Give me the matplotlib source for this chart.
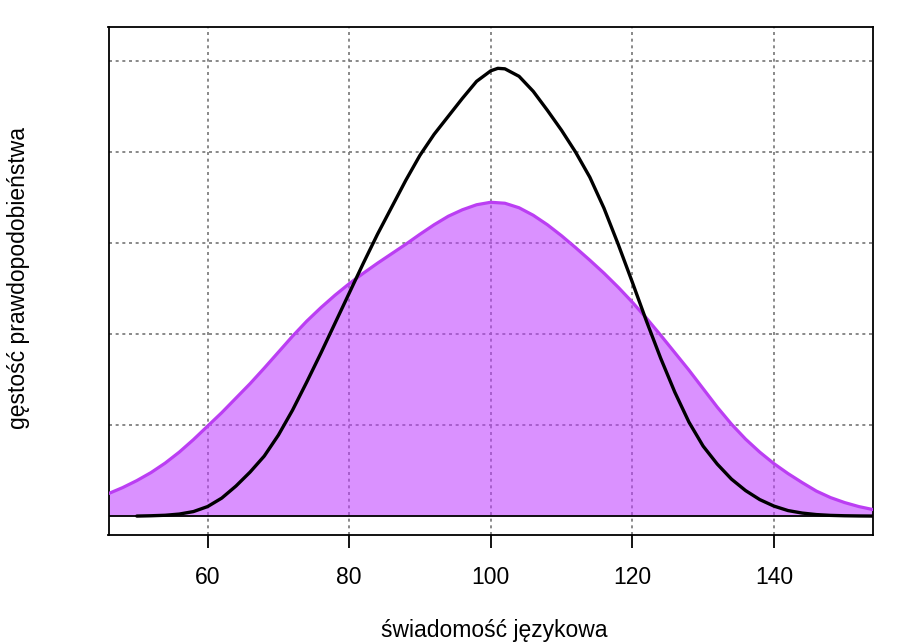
import numpy as np
import matplotlib
matplotlib.use("Agg")
import matplotlib.pyplot as plt

plt.rcParams["font.family"] = ["Liberation Sans", "DejaVu Sans"]

# krzywa teoretyczna (wypełniona, fioletowa)
norm_x = list(range(46, 155, 2))
norm_y = [0.001235, 0.001565, 0.001949, 0.002389, 0.002910, 0.003514, 0.004201,
          0.004942, 0.005683, 0.006479, 0.007275, 0.008127, 0.009005, 0.009884,
          0.010707, 0.011449, 0.012135, 0.012766, 0.013343, 0.013892, 0.014414,
          0.014935, 0.015484, 0.016006, 0.016473, 0.016830, 0.017104, 0.017241,
          0.017187, 0.016939, 0.016528, 0.016006, 0.015402, 0.014743, 0.014057,
          0.013343, 0.012574, 0.011751, 0.010872, 0.009939, 0.008978, 0.008017,
          0.007001, 0.005985, 0.005052, 0.004228, 0.003514, 0.002883, 0.002334,
          0.001839, 0.001373, 0.001016, 0.000741, 0.000522, 0.000357]

# gęstość empiryczna (czarna linia)
dens_x = list(range(50, 101, 2)) + [101] + list(range(102, 155, 2))
dens_y = [0.0, 0.000017, 0.000044, 0.000110, 0.000247, 0.000522, 0.000988,
          0.001647, 0.002416, 0.003295, 0.004448, 0.005820, 0.007358, 0.008950,
          0.010597, 0.012245, 0.013892, 0.015484, 0.016967, 0.018449, 0.019822,
          0.020975, 0.021964, 0.022952, 0.023885, 0.024462, 0.024599, 0.024572,
          0.024160, 0.023336, 0.022293, 0.021195, 0.019987, 0.018614, 0.016912,
          0.014935, 0.012849, 0.010707, 0.008676, 0.006809, 0.005161, 0.003844,
          0.002855, 0.002032, 0.001400, 0.000906, 0.000549, 0.000302, 0.000165,
          0.000082, 0.000038, 0.000017, 0.000006, 0.0]

x_ticks = [60, 80, 100, 120, 140]
y_grid = [0.005, 0.010, 0.015, 0.020, 0.025]

fig = plt.figure(figsize=(9.01, 6.44), dpi=100)
ax = fig.add_axes([108.5 / 901, 1 - 535 / 644, (873 - 108.5) / 901, (535 - 27) / 644])

# siatka kropkowana jak lty=3 w R
grid_style = dict(color="#767676", linewidth=1.2, linestyle=(0, (1.8, 2.2)), zorder=1)
for gx in x_ticks:
    ax.axvline(gx, **grid_style)
for gy in y_grid:
    ax.axhline(gy, **grid_style)

ax.fill_between(norm_x, 0, norm_y, color="#BF3EFF", alpha=0.57, linewidth=0, zorder=2)
ax.plot(norm_x, norm_y, color="#BB3EF3", linewidth=2.3, zorder=3,
        solid_joinstyle="round")
ax.axhline(0, color="black", linewidth=1.3, zorder=4)
ax.plot(dens_x, dens_y, color="black", linewidth=2.4, zorder=5,
        solid_capstyle="round", solid_joinstyle="round")

ax.set_xlim(46, 154)
ax.set_ylim(-0.00104, 0.02687)
ax.set_xticks(x_ticks)
ax.set_yticks([])
ax.tick_params(axis="x", direction="out", length=9.5, width=1.3, pad=13,
               labelsize=16.5, color="black")
for s in ax.spines.values():
    s.set_linewidth(1.3)

fig.text(494 / 901, 1 - 630 / 644, "świadomość językowa", ha="center", va="center",
         fontsize=16.5)
fig.text(18.5 / 901, 1 - 278 / 644, "gęstość prawdopodobieństwa", ha="center",
         va="center", rotation=90, fontsize=16.5)

fig.savefig("out.png", dpi=100)
